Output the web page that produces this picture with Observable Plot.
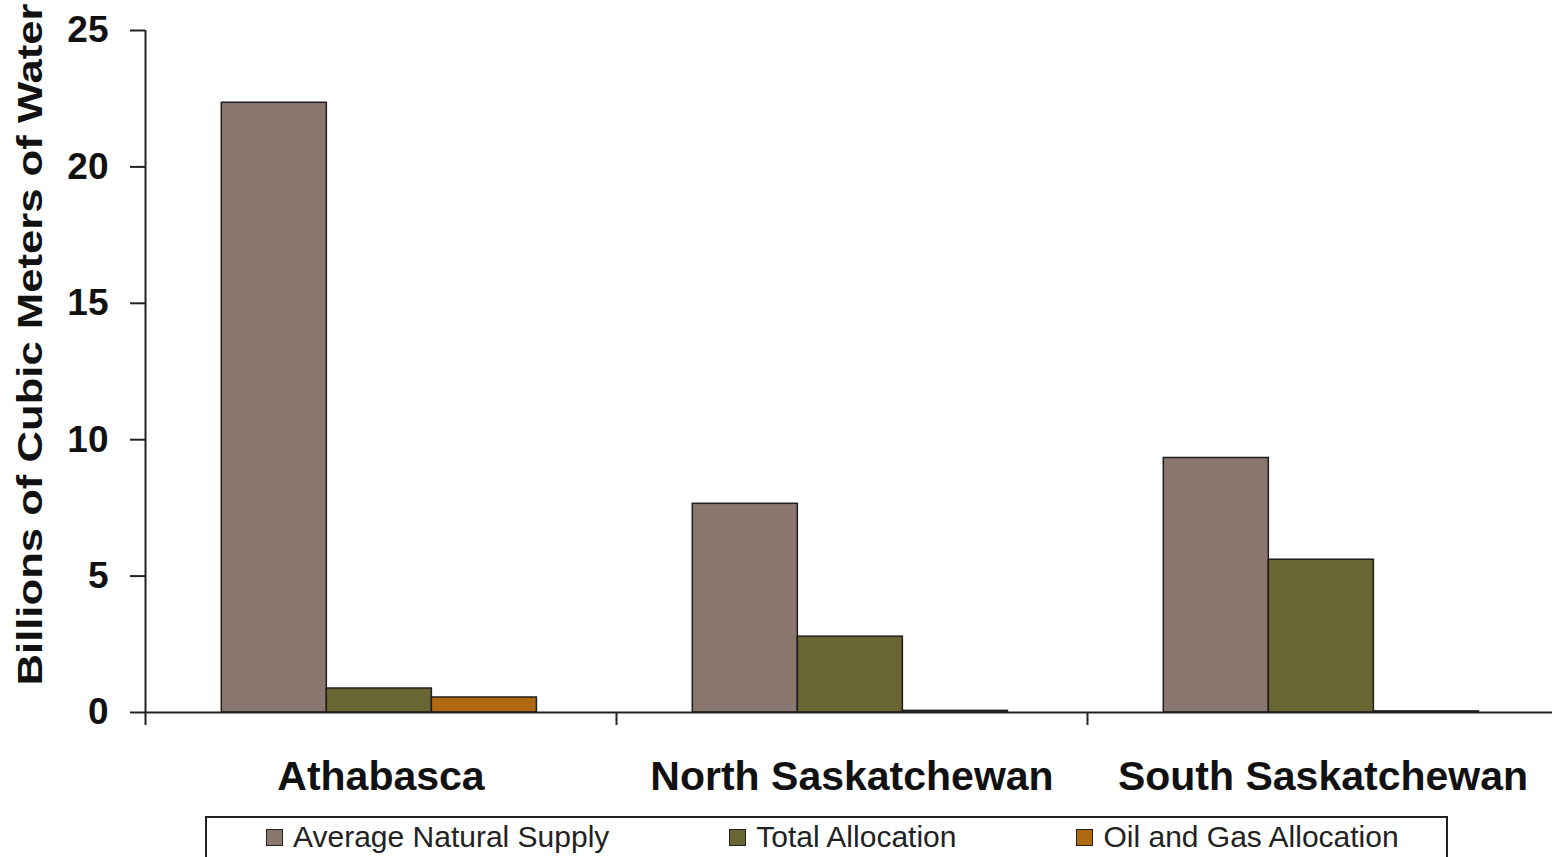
<!DOCTYPE html>
<html>
<head>
<meta charset="utf-8">
<script src="https://cdn.jsdelivr.net/npm/d3@7"></script>
<script src="https://cdn.jsdelivr.net/npm/@observablehq/plot@0.6"></script>
<style>
  html, body { margin: 0; padding: 0; background: #fff; overflow: hidden; }
  #chart svg { display: block; max-width: none !important; }
  .legend {
    margin-left: 205px; margin-top: 4px; width: 1243px; height: 60px;
    box-sizing: border-box; border: 2px solid #222; border-bottom: none;
    display: flex; align-items: flex-start; padding-left: 59px; padding-top: 2px;
    font-family: "Liberation Sans", Arial, sans-serif; font-size: 30px; color: #222;
    white-space: nowrap;
  }
  .legend .item { display: flex; align-items: center; margin-right: 120px; flex-shrink: 0; }
  .legend .sw { width: 17px; height: 17px; border: 1.5px solid #222; margin-right: 10px; box-sizing: border-box; flex-shrink: 0; }
</style>
</head>
<body>
<div id="chart"></div>
<script>
const categories = ["Athabasca", "North Saskatchewan", "South Saskatchewan"];
const series = ["Average Natural Supply", "Total Allocation", "Oil and Gas Allocation"];
const averageNaturalSupply = [22.35, 7.65, 9.33];
const totalAllocation = [0.88, 2.78, 5.6];
const oilAndGasAllocation = [0.55, 0.06, 0.04];
const yTicks = [0, 5, 10, 15, 20, 25];
const colors = ["#8a776f", "#6a6634", "#b0690f"];
const yLabel = "Billions of Cubic Meters of Water";

const seriesValues = [averageNaturalSupply, totalAllocation, oilAndGasAllocation];
const rows = [];
categories.forEach((c, ci) => series.forEach((s, si) => rows.push({category: c, ci, series: s, si, value: seriesValues[si][ci]})));

// layout within each category slot (fractions of a slot)
const pad = 0.162, bw = 0.223;

const chart = Plot.plot({
  width: 1558, height: 812,
  marginLeft: 145, marginRight: 0, marginTop: 30, marginBottom: 100,
  x: {domain: [0, categories.length], axis: null},
  y: {domain: [0, 25], axis: null},
  color: {domain: series, range: colors},
  style: {fontFamily: "'Liberation Sans', Arial, sans-serif", background: "white", color: "#111", overflow: "visible"},
  marks: [
    Plot.rect(rows, {x1: d => d.ci + pad + d.si * bw, x2: d => d.ci + pad + (d.si + 1) * bw, y1: 0, y2: "value", fill: "series", stroke: "#1e1e1e", strokeWidth: 1.5}),
    Plot.ruleY([0], {stroke: "#222", strokeWidth: 2}),
    Plot.ruleX([0], {stroke: "#222", strokeWidth: 2, insetBottom: -13}),
    Plot.axisX({ticks: [1, 2, 3], tickSize: 13, tickFormat: () => "", label: null, stroke: "#222", strokeWidth: 2}),
    Plot.axisY({ticks: yTicks, tickSize: 15, tickPadding: 22, fontSize: 37, fontWeight: "bold", label: null, stroke: "#222", strokeWidth: 2}),
    Plot.text(categories, {x: (d, i) => i + 0.5, frameAnchor: "bottom", dy: 77, fontSize: 41, fontWeight: "bold", fill: "#111"}),
    Plot.text([yLabel], {frameAnchor: "left", dx: -115, dy: 314, rotate: -90, textAnchor: "start", fontSize: 35, fontWeight: "bold", fill: "#111"})
  ]
});
document.getElementById("chart").appendChild(chart);
chart.querySelectorAll("text").forEach(t => {
  if (t.textContent === yLabel) { t.setAttribute("textLength", 682); t.setAttribute("lengthAdjust", "spacingAndGlyphs"); }
});

const legend = document.createElement("div");
legend.className = "legend";
series.forEach((s, i) => {
  const item = document.createElement("div");
  item.className = "item";
  const sw = document.createElement("div");
  sw.className = "sw";
  sw.style.background = colors[i];
  const label = document.createElement("span");
  label.textContent = s;
  item.appendChild(sw); item.appendChild(label);
  legend.appendChild(item);
});
document.body.appendChild(legend);
</script>
</body>
</html>
